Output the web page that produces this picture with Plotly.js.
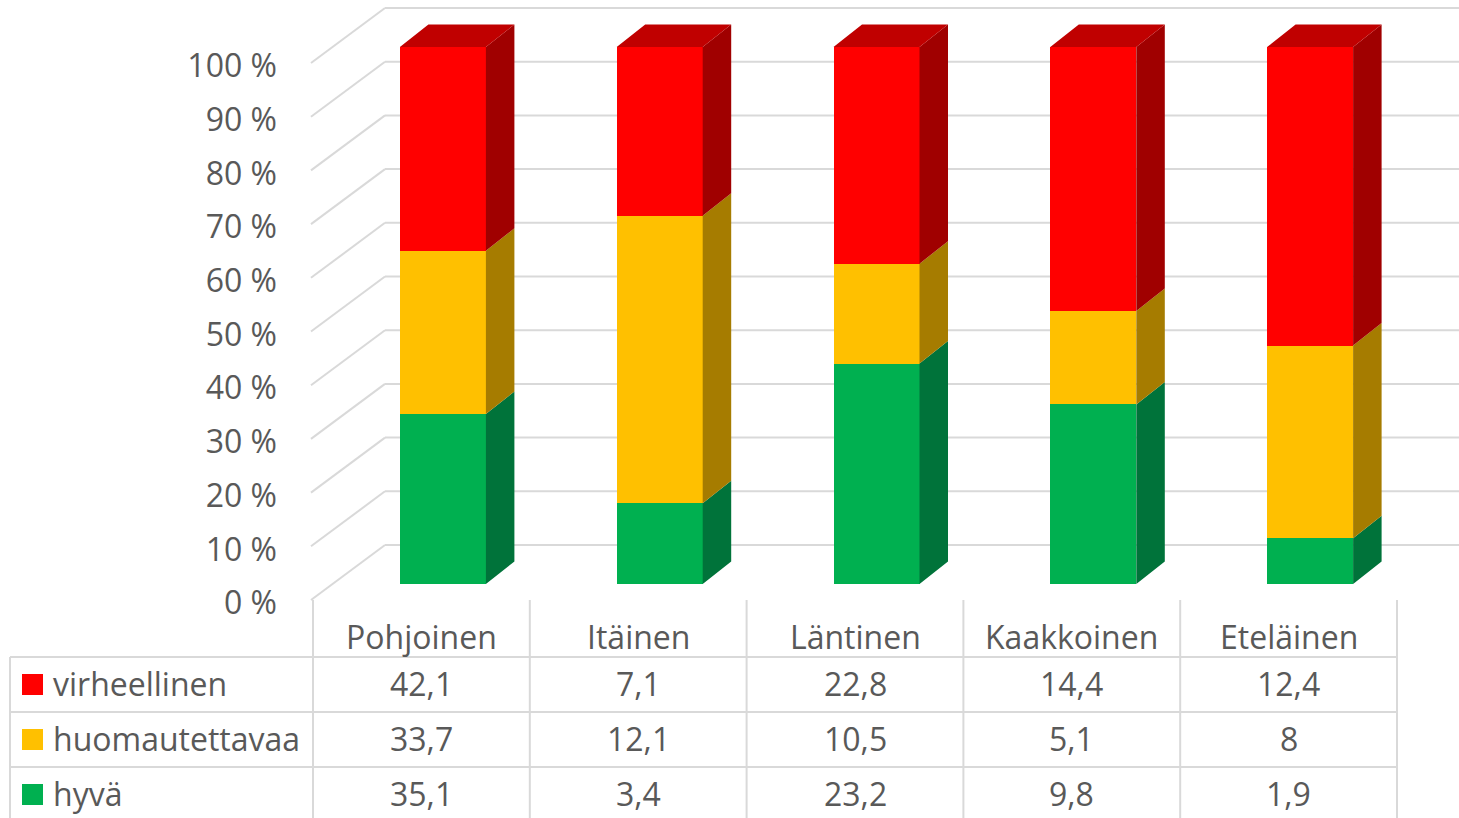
<!DOCTYPE html>
<html>
<head>
<meta charset="utf-8">
<script src="https://cdn.plot.ly/plotly-3.0.1.min.js"></script>
<style>
  html, body { margin: 0; padding: 0; background: #ffffff; }
  #chart { width: 1459px; height: 818px; }
</style>
</head>
<body>
<div id="chart"></div>
<script>
// ---------------- DATA ----------------
const categories = ['Pohjoinen', 'Itäinen', 'Läntinen', 'Kaakkoinen', 'Eteläinen'];
const virheellinen = [42.1, 7.1, 22.8, 14.4, 12.4];
const huomautettavaa = [33.7, 12.1, 10.5, 5.1, 8];
const hyva = [35.1, 3.4, 23.2, 9.8, 1.9];
const seriesNames = ['virheellinen', 'huomautettavaa', 'hyvä'];
const tickValues = [0, 10, 20, 30, 40, 50, 60, 70, 80, 90, 100];

// ---------------- STYLE / GEOMETRY ----------------
const W = 1459, H = 818;
const M = { l: 300, r: 0, t: 0, b: 208 };
const PX_X = 216.8;          // px per category unit
const PX_Y = 5.37;           // px per percent
const plotW = W - M.l - M.r, plotH = H - M.t - M.b;
const firstColPx = 313;      // left edge of first category column
const frontZeroPx = 584;     // bar front-plane 0 %
const leftZeroPx = 600;      // left wall front edge 0 %
const backZeroPx = 545;      // back wall 0 %
const labelDrop = 3;         // tick labels sit slightly below their gridline
const XR = [-0.5 - (firstColPx - M.l) / PX_X, -0.5 + (W - M.r - firstColPx) / PX_X];
const YR = [-(plotH - frontZeroPx) / PX_Y, frontZeroPx / PX_Y];
const Y2R = [(leftZeroPx + labelDrop - plotH) / PX_Y, (leftZeroPx + labelDrop) / PX_Y];

const barOffset = -21.5 / PX_X, barWidth = 86 / PX_X;
const depthX = 28.5 / PX_X, depthY = 22.5 / PX_Y;
const wallFrontX = -0.5 - 2 / PX_X, wallBackX = -0.5 + 72 / PX_X;
const wallBackDY = (frontZeroPx - backZeroPx) / PX_Y;
const wallFrontDY = -(leftZeroPx - frontZeroPx) / PX_Y;

const frontColors = ['#FF0000', '#FFC000', '#00B050'];
const sideColors = ['#A00000', '#A67C00', '#00733A'];
const topColor = '#C00000';
const gridColor = '#D9D9D9';
const textColor = '#595959';
const FONT = 'Open Sans, sans-serif';
const FS = 32;

// series in stacking order (bottom to top)
const stackSeries = [hyva, huomautettavaa, virheellinen];
const stackFront = [frontColors[2], frontColors[1], frontColors[0]];
const stackSide = [sideColors[2], sideColors[1], sideColors[0]];
const stackNames = [seriesNames[2], seriesNames[1], seriesNames[0]];
const xs = categories.map((c, i) => i);

// percentages
const totals = xs.map(i => stackSeries.reduce((s, arr) => s + arr[i], 0));
const pct = stackSeries.map(arr => arr.map((v, i) => v / totals[i] * 100));

const traces = [];
// front faces: library bars with percent normalisation
stackSeries.forEach((arr, k) => {
  traces.push({
    type: 'bar', x: xs, y: arr, name: stackNames[k],
    offset: barOffset, width: barWidth,
    marker: { color: stackFront[k], line: { width: 0 } },
    hoverinfo: 'skip', showlegend: false
  });
});
// side faces
stackSeries.forEach((arr, k) => {
  const px = [], py = [];
  xs.forEach(i => {
    let y0 = 0;
    for (let j = 0; j < k; j++) y0 += pct[j][i];
    const y1 = y0 + pct[k][i];
    const xr = i + barOffset + barWidth;
    px.push(xr, xr + depthX, xr + depthX, xr, xr, null);
    py.push(y0, y0 + depthY, y1 + depthY, y1, y0, null);
  });
  traces.push({
    type: 'scatter', mode: 'lines', x: px, y: py, fill: 'toself',
    fillcolor: stackSide[k], line: { width: 0, color: stackSide[k] },
    hoverinfo: 'skip', showlegend: false, connectgaps: false
  });
});
// top faces
{
  const px = [], py = [];
  xs.forEach(i => {
    let top = 0;
    for (let j = 0; j < stackSeries.length; j++) top += pct[j][i];
    const xl = i + barOffset, xr = xl + barWidth;
    px.push(xl, xl + depthX, xr + depthX, xr, xl, null);
    py.push(top, top + depthY, top + depthY, top, top, null);
  });
  traces.push({
    type: 'scatter', mode: 'lines', x: px, y: py, fill: 'toself',
    fillcolor: topColor, line: { width: 0, color: topColor },
    hoverinfo: 'skip', showlegend: false, connectgaps: false
  });
}
// dummy trace to activate label axis
traces.push({ type: 'scatter', x: [0], y: [50], yaxis: 'y2', mode: 'markers',
  marker: { opacity: 0 }, hoverinfo: 'skip', showlegend: false });

// ---------------- WALL GRID ----------------
const shapes = [];
tickValues.forEach(v => {
  shapes.push({ type: 'line', layer: 'below', xref: 'x', yref: 'y',
    x0: wallBackX, x1: XR[1], y0: v + wallBackDY, y1: v + wallBackDY,
    line: { color: gridColor, width: 2 } });
  shapes.push({ type: 'line', layer: 'below', xref: 'x', yref: 'y',
    x0: wallFrontX, x1: wallBackX, y0: v + wallFrontDY, y1: v + wallBackDY,
    line: { color: gridColor, width: 2 } });
});

// ---------------- TABLE ----------------
const xP = x => (x - XR[0]) / (XR[1] - XR[0]);        // data x -> paper
const pxP = p => (p - M.l) / plotW;                      // pixel x -> paper
const pyP = p => (plotH + M.t - p) / plotH;              // pixel y -> paper
const tableTop = 600, headerBottom = 657, rowH = 55;
const leftPx = 10;
const bottomPaper = pyP(H + 10);
const annotations = [];

// column separators
for (let i = 0; i <= categories.length; i++) {
  shapes.push({ type: 'line', xref: 'paper', yref: 'paper',
    x0: xP(i - 0.5), x1: xP(i - 0.5), y0: pyP(tableTop), y1: bottomPaper,
    line: { color: gridColor, width: 2 } });
}
// left border
shapes.push({ type: 'line', xref: 'paper', yref: 'paper',
  x0: pxP(leftPx), x1: pxP(leftPx), y0: pyP(headerBottom), y1: bottomPaper,
  line: { color: gridColor, width: 2 } });
// row lines
for (let r = 0; r <= seriesNames.length; r++) {
  const yy = pyP(headerBottom + r * rowH);
  shapes.push({ type: 'line', xref: 'paper', yref: 'paper',
    x0: pxP(leftPx), x1: xP(categories.length - 0.5), y0: yy, y1: yy,
    line: { color: gridColor, width: 2 } });
}
// header
categories.forEach((c, i) => {
  annotations.push({ xref: 'paper', yref: 'paper', x: xP(i), y: pyP(636),
    text: c, showarrow: false, xanchor: 'center', yanchor: 'middle',
    font: { family: FONT, size: FS, color: textColor } });
});
// rows
const tableSeries = [virheellinen, huomautettavaa, hyva];
const fmt = v => String(v).replace('.', ',');
tableSeries.forEach((arr, r) => {
  const cy = headerBottom + r * rowH + rowH / 2;
  shapes.push({ type: 'rect', xref: 'paper', yref: 'paper',
    x0: pxP(22), x1: pxP(43), y0: pyP(cy - 10.5), y1: pyP(cy + 10.5),
    fillcolor: frontColors[r], line: { width: 0 } });
  annotations.push({ xref: 'paper', yref: 'paper', x: pxP(51), y: pyP(cy - 1),
    text: seriesNames[r], showarrow: false, xanchor: 'left', yanchor: 'middle',
    font: { family: FONT, size: FS, color: textColor } });
  arr.forEach((v, i) => {
    annotations.push({ xref: 'paper', yref: 'paper', x: xP(i), y: pyP(cy - 1),
      text: fmt(v), showarrow: false, xanchor: 'center', yanchor: 'middle',
      font: { family: FONT, size: FS, color: textColor } });
  });
});

const layout = {
  width: W, height: H,
  margin: M,
  paper_bgcolor: '#ffffff', plot_bgcolor: '#ffffff',
  barmode: 'stack', barnorm: 'percent',
  showlegend: false,
  xaxis: { range: XR, showgrid: false, zeroline: false, showticklabels: false,
    showline: false, ticks: '', fixedrange: true },
  yaxis: { range: YR, showgrid: false, zeroline: false, showticklabels: false,
    showline: false, ticks: '', fixedrange: true },
  yaxis2: { range: Y2R, overlaying: 'y', side: 'left', showgrid: false, zeroline: false,
    showline: false, ticks: '', tickvals: tickValues,
    ticktext: tickValues.map(v => v + ' %'),
    ticklabelstandoff: 22,
    tickfont: { family: FONT, size: FS, color: textColor }, fixedrange: true },
  shapes: shapes,
  annotations: annotations
};

Plotly.newPlot('chart', traces, layout, { displayModeBar: false, staticPlot: true });
</script>
</body>
</html>
